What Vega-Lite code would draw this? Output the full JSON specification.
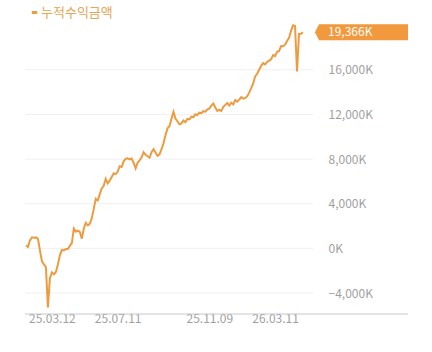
{
  "$schema": "https://vega.github.io/schema/vega-lite/v6.json",
  "autosize": "none",
  "width": 383,
  "height": 290,
  "padding": {"left": 25, "top": 24, "right": 24, "bottom": 38},
  "background": "white",
  "config": {"view": {"stroke": null}, "font": "Noto Sans CJK KR"},
  "datasets": {
    "main": [
      {"d": "25.01.24", "v": 270}, {"d": "25.01.27", "v": 130}, {"d": "25.01.31", "v": 720}, {"d": "25.02.03", "v": 990},
      {"d": "25.02.07", "v": 950}, {"d": "25.02.10", "v": 980}, {"d": "25.02.14", "v": 850}, {"d": "25.02.17", "v": -180},
      {"d": "25.02.21", "v": -1170}, {"d": "25.02.24", "v": -1440}, {"d": "25.02.28", "v": -1680}, {"d": "25.03.04", "v": -5290},
      {"d": "25.03.07", "v": -2650}, {"d": "25.03.12", "v": -2150}, {"d": "25.03.16", "v": -2330}, {"d": "25.03.19", "v": -2110},
      {"d": "25.03.23", "v": -1440}, {"d": "25.03.27", "v": -630}, {"d": "25.03.30", "v": -140}, {"d": "25.04.03", "v": -180},
      {"d": "25.04.07", "v": -50}, {"d": "25.04.10", "v": -60}, {"d": "25.04.14", "v": 220}, {"d": "25.04.18", "v": 470},
      {"d": "25.04.21", "v": 1770}, {"d": "25.04.25", "v": 1500}, {"d": "25.04.29", "v": 1590}, {"d": "25.05.02", "v": 1480},
      {"d": "25.05.06", "v": 870}, {"d": "25.05.10", "v": 1750}, {"d": "25.05.13", "v": 2290}, {"d": "25.05.17", "v": 2060},
      {"d": "25.05.21", "v": 2200}, {"d": "25.05.24", "v": 2690}, {"d": "25.05.28", "v": 3540}, {"d": "25.06.01", "v": 4440},
      {"d": "25.06.04", "v": 4280}, {"d": "25.06.08", "v": 4840}, {"d": "25.06.12", "v": 5360}, {"d": "25.06.15", "v": 5610},
      {"d": "25.06.19", "v": 6230}, {"d": "25.06.23", "v": 5830}, {"d": "25.06.26", "v": 6060}, {"d": "25.06.30", "v": 6400},
      {"d": "25.07.04", "v": 6730}, {"d": "25.07.07", "v": 6650}, {"d": "25.07.11", "v": 6860}, {"d": "25.07.14", "v": 7360},
      {"d": "25.07.17", "v": 7290}, {"d": "25.07.19", "v": 7800}, {"d": "25.07.22", "v": 8010}, {"d": "25.07.25", "v": 8060},
      {"d": "25.07.27", "v": 7970}, {"d": "25.07.30", "v": 8040}, {"d": "25.08.02", "v": 7670}, {"d": "25.08.04", "v": 7180},
      {"d": "25.08.07", "v": 7670}, {"d": "25.08.10", "v": 7870}, {"d": "25.08.12", "v": 8160}, {"d": "25.08.15", "v": 8610},
      {"d": "25.08.18", "v": 8390}, {"d": "25.08.20", "v": 8250}, {"d": "25.08.23", "v": 8120}, {"d": "25.08.26", "v": 8610},
      {"d": "25.08.28", "v": 8880}, {"d": "25.08.31", "v": 8580}, {"d": "25.09.03", "v": 8300}, {"d": "25.09.05", "v": 8430},
      {"d": "25.09.08", "v": 8880}, {"d": "25.09.11", "v": 9420}, {"d": "25.09.13", "v": 10140}, {"d": "25.09.16", "v": 10750},
      {"d": "25.09.19", "v": 10940}, {"d": "25.09.21", "v": 11620}, {"d": "25.09.24", "v": 12230}, {"d": "25.09.27", "v": 11630},
      {"d": "25.09.29", "v": 11390}, {"d": "25.10.02", "v": 11120}, {"d": "25.10.05", "v": 11200}, {"d": "25.10.07", "v": 11460},
      {"d": "25.10.10", "v": 11300}, {"d": "25.10.13", "v": 11600}, {"d": "25.10.15", "v": 11560}, {"d": "25.10.18", "v": 11800},
      {"d": "25.10.21", "v": 11740}, {"d": "25.10.23", "v": 12010}, {"d": "25.10.26", "v": 11950}, {"d": "25.10.29", "v": 12160},
      {"d": "25.10.31", "v": 12100}, {"d": "25.11.03", "v": 12290}, {"d": "25.11.05", "v": 12250}, {"d": "25.11.07", "v": 12460},
      {"d": "25.11.09", "v": 12520}, {"d": "25.11.13", "v": 12790}, {"d": "25.11.16", "v": 12980}, {"d": "25.11.20", "v": 12620},
      {"d": "25.11.24", "v": 12320}, {"d": "25.11.27", "v": 12420}, {"d": "25.12.01", "v": 12300}, {"d": "25.12.05", "v": 12680},
      {"d": "25.12.08", "v": 12850}, {"d": "25.12.12", "v": 13030}, {"d": "25.12.16", "v": 12800}, {"d": "25.12.19", "v": 13050},
      {"d": "25.12.23", "v": 12900}, {"d": "25.12.27", "v": 13290}, {"d": "25.12.30", "v": 13150}, {"d": "26.01.03", "v": 13320},
      {"d": "26.01.07", "v": 13550}, {"d": "26.01.10", "v": 13420}, {"d": "26.01.14", "v": 13460}, {"d": "26.01.18", "v": 13630},
      {"d": "26.01.21", "v": 13950}, {"d": "26.01.25", "v": 14350}, {"d": "26.01.29", "v": 14770}, {"d": "26.02.01", "v": 15410},
      {"d": "26.02.05", "v": 15640}, {"d": "26.02.09", "v": 16000}, {"d": "26.02.12", "v": 16350}, {"d": "26.02.16", "v": 16590},
      {"d": "26.02.20", "v": 16480}, {"d": "26.02.23", "v": 16700}, {"d": "26.02.27", "v": 16820}, {"d": "26.03.03", "v": 16940},
      {"d": "26.03.06", "v": 17310}, {"d": "26.03.11", "v": 17220}, {"d": "26.03.14", "v": 17610}, {"d": "26.03.18", "v": 17690},
      {"d": "26.03.21", "v": 18120}, {"d": "26.03.25", "v": 18100}, {"d": "26.03.29", "v": 18250}, {"d": "26.04.01", "v": 18570},
      {"d": "26.04.05", "v": 18870}, {"d": "26.04.09", "v": 19480}, {"d": "26.04.12", "v": 19980}, {"d": "26.04.16", "v": 19930},
      {"d": "26.04.20", "v": 15850}, {"d": "26.04.23", "v": 19210}, {"d": "26.04.27", "v": 19230}, {"d": "26.05.01", "v": 19366}
    ],
    "grid": [{"g": -4000}, {"g": 0}, {"g": 4000}, {"g": 8000}, {"g": 12000}, {"g": 16000}],
    "tag": [{"d": "26.05.01", "v": 19366, "label": "19,366K"}]
  },
  "layer": [
    {
      "data": {"name": "grid"},
      "mark": {"type": "rule", "color": "#f0f0f0", "strokeWidth": 1, "xOffset": -1, "x2Offset": 10},
      "encoding": {
        "y": {"field": "g", "type": "quantitative"},
        "x": {"datum": "25.01.24", "type": "ordinal"},
        "x2": {"datum": "26.05.01"}
      }
    },
    {
      "data": {"values": [{"base": -5880}]},
      "mark": {"type": "rule", "color": "#c8c8c8", "strokeWidth": 1, "xOffset": -1, "x2Offset": 105},
      "encoding": {
        "y": {"field": "base", "type": "quantitative"},
        "x": {"datum": "25.01.24", "type": "ordinal"},
        "x2": {"datum": "26.05.01"}
      }
    },
    {
      "data": {"name": "main"},
      "mark": {"type": "line", "strokeWidth": 2, "interpolate": "linear"},
      "encoding": {
        "x": {
          "field": "d", "type": "ordinal",
          "scale": {"type": "point", "range": [1, 278], "padding": 0},
          "axis": {
            "values": ["25.03.12", "25.07.11", "25.11.09", "26.03.11"],
            "title": null, "labelAngle": 0, "labelAlign": "center", "labelColor": "#9f9f9f", "labelFontSize": 12,
            "labelPadding": 4, "ticks": false, "domain": false, "grid": false
          }
        },
        "y": {
          "field": "v", "type": "quantitative",
          "scale": {"domain": [-5880, 20100], "nice": false, "zero": false},
          "axis": {
            "orient": "right", "values": [-4000, 0, 4000, 8000, 12000, 16000],
            "labelExpr": "format(datum.value, ',') + 'K'",
            "title": null, "labelColor": "#9f9f9f", "labelFontSize": 12, "labelPadding": -80,
            "labelAlign": "left", "ticks": false, "domain": false, "grid": false
          }
        },
        "color": {
          "datum": "누적수익금액",
          "scale": {"range": ["#EE9B40"]},
          "legend": {
            "title": null, "orient": "none", "legendX": 3, "legendY": -18,
            "symbolType": "stroke", "symbolSize": 30, "symbolStrokeWidth": 3,
            "labelColor": "#E6A553", "labelFontSize": 13, "labelOffset": 0, "padding": 0
          }
        }
      }
    },
    {
      "data": {"name": "tag"},
      "mark": {"type": "point", "filled": true, "opacity": 1, "strokeWidth": 0, "size": 400, "color": "#F2983D",
               "shape": "M1.2,0 L1.6,-0.8 L10.5,-0.8 L10.5,0.8 L1.6,0.8 Z"},
      "encoding": {
        "x": {"field": "d", "type": "ordinal"},
        "y": {"field": "v", "type": "quantitative"}
      }
    },
    {
      "data": {"name": "tag"},
      "mark": {"type": "text", "align": "left", "baseline": "middle", "dx": 25, "color": "white", "fontSize": 12},
      "encoding": {
        "x": {"field": "d", "type": "ordinal"},
        "y": {"field": "v", "type": "quantitative"},
        "text": {"field": "label"}
      }
    }
  ]
}
